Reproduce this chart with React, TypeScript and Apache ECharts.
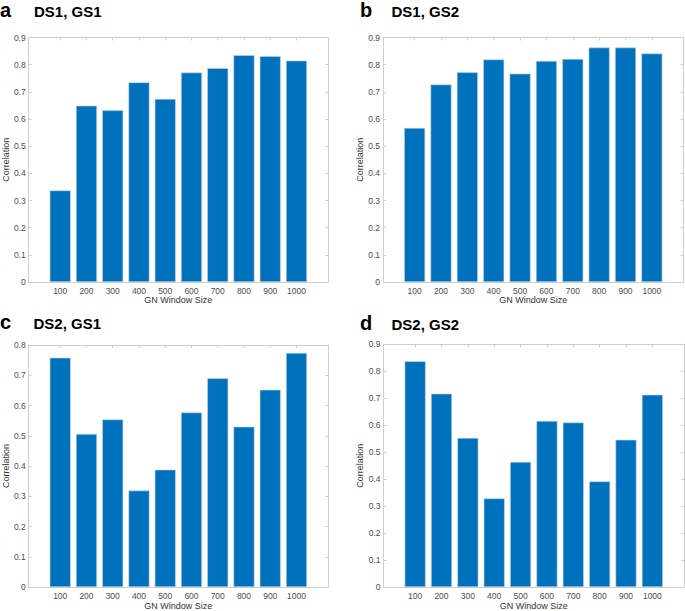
import React, { useEffect, useRef } from "react";
import * as echarts from "echarts";

// ---- data ----
const windowSizes = [100, 200, 300, 400, 500, 600, 700, 800, 900, 1000];
const ds1gs1 = [0.337, 0.649, 0.632, 0.735, 0.674, 0.771, 0.787, 0.835, 0.831, 0.815];
const ds1gs2 = [0.567, 0.727, 0.772, 0.819, 0.767, 0.814, 0.821, 0.863, 0.863, 0.841];
const ds2gs1 = [0.758, 0.506, 0.554, 0.319, 0.388, 0.577, 0.690, 0.530, 0.652, 0.774];
const ds2gs2 = [0.837, 0.717, 0.553, 0.329, 0.464, 0.616, 0.610, 0.392, 0.546, 0.713];
const panelLetters = ["a", "b", "c", "d"];
const panelTitles = ["DS1, GS1", "DS1, GS2", "DS2, GS1", "DS2, GS2"];
const panelYMax = [0.9, 0.9, 0.8, 0.9];
const xAxisName = "GN Window Size";
const yAxisName = "Correlation";

const FONT = "'Liberation Sans', Arial, Helvetica, sans-serif";
const AXIS_COLOR = "#cfcfcf";
const LABEL_COLOR = "#4d4d4d";
const BAR_COLOR = "#0072BD";

// baseline positions of panel letters and titles
const layout = [
  { grid: { left: 27.5, top: 37.5, width: 300.5, height: 244.5 }, letterX: 0, titleX: 34, baseY: 16.5 },
  { grid: { left: 383, top: 37.5, width: 300.5, height: 244.5 }, letterX: 360, titleX: 391.5, baseY: 16.8 },
  { grid: { left: 27.5, top: 345, width: 300.5, height: 244.5 }, letterX: 0, titleX: 33.5, baseY: 328.8 },
  { grid: { left: 383.5, top: 344.3, width: 300.5, height: 244.5 }, letterX: 360, titleX: 391.5, baseY: 329.8 },
];

const allData = [ds1gs1, ds1gs2, ds2gs1, ds2gs2];

export default function App() {
  const ref = useRef<HTMLDivElement>(null);
  useEffect(() => {
    if (!ref.current) return;
    const chart = echarts.init(ref.current, undefined, { renderer: "svg" });
    const grid: any[] = [];
    const xAxis: any[] = [];
    const yAxis: any[] = [];
    const series: any[] = [];
    const graphic: any[] = [];
    const axisLine = { show: true, onZero: false, lineStyle: { color: AXIS_COLOR, width: 1 } };
    const tick = { show: true, inside: true, length: 3, lineStyle: { color: AXIS_COLOR, width: 1 } };

    layout.forEach((L, i) => {
      grid.push({ ...L.grid, containLabel: false });
      xAxis.push({
        type: "value", gridIndex: i, min: -20, max: 1120, position: "bottom",
        name: xAxisName, nameLocation: "middle", nameGap: 13,
        nameTextStyle: { fontSize: 9, color: "#333", fontFamily: FONT },
        axisLine, axisTick: { ...tick, customValues: windowSizes },
        axisLabel: { customValues: windowSizes, fontSize: 8.5, color: LABEL_COLOR, fontFamily: FONT, margin: 4,
          formatter: (v: number) => String(Math.round(v)) },
        splitLine: { show: false },
      });
      xAxis.push({
        type: "value", gridIndex: i, min: -20, max: 1120, position: "top",
        axisLine, axisTick: { ...tick, customValues: windowSizes },
        axisLabel: { show: false }, splitLine: { show: false },
      });
      yAxis.push({
        type: "value", gridIndex: i, min: 0, max: panelYMax[i], interval: 0.1, position: "left",
        name: yAxisName, nameLocation: "middle", nameGap: 16, nameRotate: 90,
        nameTextStyle: { fontSize: 9, color: "#333", fontFamily: FONT },
        axisLine, axisTick: tick,
        axisLabel: { fontSize: 8.5, color: LABEL_COLOR, fontFamily: FONT, margin: 3,
          formatter: (v: number) => String(Math.round(v * 10) / 10) },
        splitLine: { show: false },
      });
      yAxis.push({
        type: "value", gridIndex: i, min: 0, max: panelYMax[i], interval: 0.1, position: "right",
        axisLine, axisTick: tick, axisLabel: { show: false }, splitLine: { show: false },
      });
      series.push({
        type: "bar", xAxisIndex: 2 * i, yAxisIndex: 2 * i,
        data: windowSizes.map((w, j) => [w, allData[i][j]]),
        barWidth: 21,
        itemStyle: { color: BAR_COLOR, borderColor: "#c9d3dc", borderWidth: 0.6 },
      });
      graphic.push({
        type: "text", x: L.letterX, y: L.baseY - 7,
        style: { text: panelLetters[i], fontSize: 20, fontWeight: "bold", fontFamily: FONT, fill: "#000", verticalAlign: "middle" },
      });
      graphic.push({
        type: "text", x: L.titleX, y: L.baseY - 5.3,
        style: { text: panelTitles[i], fontSize: 15, fontWeight: "bold", fontFamily: FONT, fill: "#000", verticalAlign: "middle" },
      });
    });

    chart.setOption({ animation: false, backgroundColor: "#fff", grid, xAxis, yAxis, series, graphic });
    return () => chart.dispose();
  }, []);
  return <div ref={ref} style={{ position: "absolute", left: 0, top: 0, width: 685, height: 611 }} />;
}
